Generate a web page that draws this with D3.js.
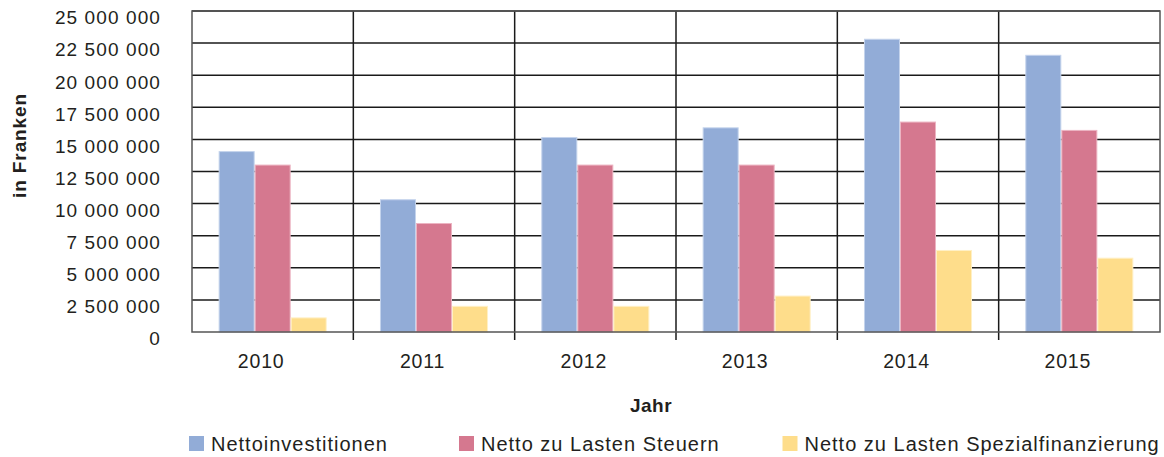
<!DOCTYPE html>
<html lang="de">
<head>
<meta charset="UTF-8">
<title>Nettoinvestitionen</title>
<script src="https://d3js.org/d3.v7.min.js"></script>
<style>
    body { margin:0; background:#fff; }
    text { font-family: "Liberation Sans", Arial, sans-serif; fill:#231f20; }
</style>
</head>
<body>
<svg width="1164" height="457"></svg>
<script>
// data
const years = ["2010", "2011", "2012", "2013", "2014", "2015"];
const series = ["Nettoinvestitionen", "Netto zu Lasten Steuern", "Netto zu Lasten Spezialfinanzierung"];
const netto = [14050000, 10300000, 15150000, 15900000, 22800000, 21550000];
const steuern = [13000000, 8450000, 13000000, 13000000, 16350000, 15700000];
const spezial = [1100000, 2000000, 2000000, 2800000, 6350000, 5750000];
const yTicks = [0, 2500000, 5000000, 7500000, 10000000, 12500000, 15000000, 17500000, 20000000, 22500000, 25000000];
const colors = ["#92acd7", "#d5788f", "#fedd8b"];
const edges = ["#c4d3ec", "#ecb4c2", "#fff0c6"];

const values = [netto, steuern, spezial];
const rows = years.map((y, i) => ({year: y, vals: values.map(v => v[i])}));

const svg = d3.select("svg");
const pLeft = 192, pRight = 1160, pTop = 11, pBottom = 332;

let x0 = d3.scaleBand().domain(years).range([pLeft, pRight]).padding(0);
let x1 = d3.scaleBand().domain(d3.range(3)).range([0, x0.bandwidth()]).paddingInner(0).paddingOuter(0.74);
let y = d3.scaleLinear().domain([0, 25000000]).range([pBottom, pTop]);

const fmt = d => d3.format(",")(d).replace(/,/g, " ");

// horizontal grid
svg.append("g").selectAll("line")
    .data(yTicks.slice(1))
    .join("line")
    .attr("x1", pLeft).attr("x2", pRight)
    .attr("y1", d => y(d)).attr("y2", d => y(d))
    .attr("stroke", "#1a1a1a").attr("stroke-width", 1.5);

// vertical separators (stick out below as ticks)
svg.append("g").selectAll("line")
    .data(years.slice(1))
    .join("line")
    .attr("x1", d => x0(d)).attr("x2", d => x0(d))
    .attr("y1", pTop).attr("y2", pBottom + 8)
    .attr("stroke", "#1a1a1a").attr("stroke-width", 1.5);

// bars
svg.append("g").selectAll("g")
    .data(rows)
    .join("g")
    .attr("transform", d => `translate(${x0(d.year)},0)`)
    .selectAll("rect")
    .data(d => d.vals.map((v, k) => ({k: k, v: v})))
    .join("rect")
    .attr("x", d => x1(d.k) + 0.5)
    .attr("width", x1.bandwidth() - 1)
    .attr("y", d => y(d.v))
    .attr("height", d => y(0) - y(d.v))
    .attr("fill", d => colors[d.k])
    .attr("stroke", d => edges[d.k])
    .attr("stroke-width", 1);

// frame
svg.append("rect")
    .attr("x", pLeft).attr("y", pTop)
    .attr("width", pRight - pLeft).attr("height", pBottom - pTop)
    .attr("fill", "none").attr("stroke", "#555").attr("stroke-width", 1.5);

// y axis labels (sit a little below their grid line, as in the original)
svg.append("g").selectAll("text")
    .data(yTicks)
    .join("text")
    .attr("x", 161)
    .attr("y", d => y(d) + 13.3)
    .attr("text-anchor", "end")
    .attr("font-size", 19)
    .attr("letter-spacing", 1.1)
    .text(fmt);

// x axis labels
svg.append("g").selectAll("text")
    .data(years)
    .join("text")
    .attr("x", d => x0(d) + x0.bandwidth() / 2 - 11.5)
    .attr("y", 367.5)
    .attr("text-anchor", "middle")
    .attr("font-size", 19.5)
    .attr("letter-spacing", 0.8)
    .text(d => d);

svg.append("text")
    .attr("x", 651)
    .attr("y", 412)
    .attr("text-anchor", "middle")
    .attr("font-size", 19)
    .attr("font-weight", "bold")
    .attr("letter-spacing", 0.5)
    .text("Jahr");

svg.append("text")
    .attr("transform", "translate(26,145.5) rotate(-90)")
    .attr("text-anchor", "middle")
    .attr("font-size", 19)
    .attr("font-weight", "bold")
    .attr("letter-spacing", 0.9)
    .text("in Franken");

// legend
const legX = [189, 459, 782.5];
const leg = svg.append("g").selectAll("g")
    .data(series)
    .join("g")
    .attr("transform", (d, i) => `translate(${legX[i]},436)`);
leg.append("rect").attr("width", 15).attr("height", 15).attr("fill", (d, i) => colors[i]);
leg.append("text")
    .attr("x", 22).attr("y", 14.5)
    .attr("font-size", 20)
    .attr("letter-spacing", 1)
    .text(d => d);
</script>
</body>
</html>
